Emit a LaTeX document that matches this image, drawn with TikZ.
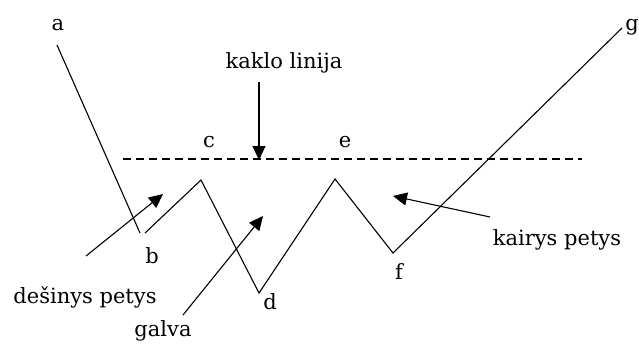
\documentclass[tikz,border=0pt]{standalone}
\usepackage{fontspec}
\setmainfont{DejaVu Serif}
\usetikzlibrary{arrows.meta}
\begin{document}
\begin{tikzpicture}[x=1pt,y=-1pt,
  lbl/.style={inner sep=0pt,font=\fontsize{21}{24}\selectfont},
  trend/.style={line width=1.1pt},
  pointer/.style={line width=1.1pt,-{Triangle[length=14pt,width=13pt]}}]
\useasboundingbox[fill=white] (0,0) rectangle (639,346);
% pattern points
\coordinate (A) at (57,45);
\coordinate (B1) at (140,233);
\coordinate (B2) at (145,233);
\coordinate (C) at (201,180);
\coordinate (D) at (259,293);
\coordinate (E) at (335,179);
\coordinate (F) at (393,253);
\coordinate (G) at (622,28);
\draw[trend] (A) -- (B1);
\draw[trend] (B2) -- (C) -- (D) -- (E) -- (F) -- (G);
% neckline
\coordinate (N1) at (123,159);
\coordinate (N2) at (582,159);
\draw[line width=1.1pt,dash pattern=on 8pt off 5pt] (N1) -- (N2);
% labels
\node[lbl] (la) at (58,25) {a};
\node[lbl] (lb) at (152,256) {b};
\node[lbl] (lc) at (209,142) {c};
\node[lbl] (ld) at (270,302) {d};
\node[lbl] (le) at (345,142) {e};
\node[lbl] (lf) at (399,272) {f};
\node[lbl] (lg) at (632,27) {g};
\node[lbl] (kaklo) at (284,63) {kaklo linija};
\node[lbl] (desinys) at (85,297) {dešinys petys};
\node[lbl] (galva) at (163,331) {galva};
\node[lbl] (kairys) at (557,240) {kairys petys};
% pointer arrows
\coordinate (k1) at (259,82);
\coordinate (k2) at (259,160);
\draw[pointer] (k1) -- (k2);
\coordinate (d1) at (86,256);
\coordinate (d2) at (163,194);
\draw[pointer] (d1) -- (d2);
\coordinate (g1) at (183,315);
\coordinate (g2) at (263,216);
\draw[pointer] (g1) -- (g2);
\coordinate (r1) at (490,217);
\coordinate (r2) at (393,196);
\draw[pointer] (r1) -- (r2);
\end{tikzpicture}
\end{document}
